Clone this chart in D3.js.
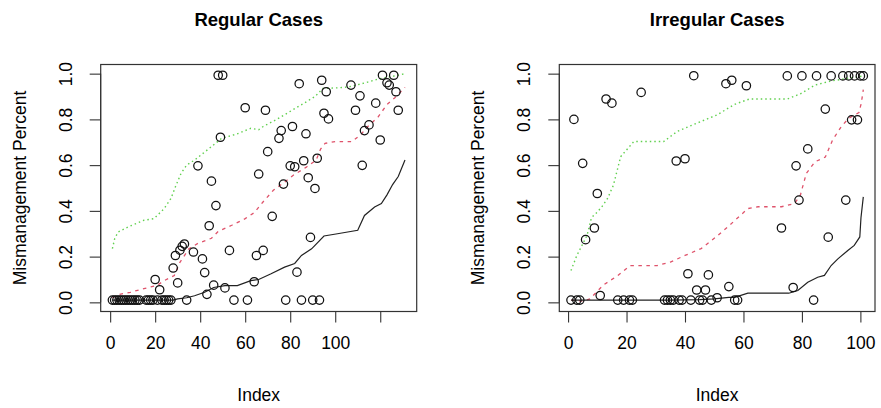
<!DOCTYPE html>
<html>
<head>
<meta charset="utf-8">
<script src="https://cdn.jsdelivr.net/npm/d3@7"></script>
<style>
  html, body { margin: 0; padding: 0; background: #fff; }
  svg text { font-family: Helvetica, Arial, "Liberation Sans", sans-serif; fill: #000; }
</style>
</head>
<body>
<svg id="chart" width="881" height="408"></svg>
<script>
// ---------------- DATA ----------------
const panelTitles = ["Regular Cases", "Irregular Cases"];
const xAxisTitle = "Index";
const yAxisTitle = "Mismanagement Percent";
const yTicks = [0, 0.2, 0.4, 0.6, 0.8, 1.0];
const yTickLabels = ["0.0", "0.2", "0.4", "0.6", "0.8", "1.0"];
const regularXTicks = [0, 20, 40, 60, 80, 100, 120];
const regularXTickLabels = ["0", "20", "40", "60", "80", "100", ""];
const irregularXTicks = [0, 20, 40, 60, 80, 100];
const irregularXTickLabels = ["0", "20", "40", "60", "80", "100"];
const regularCount = 131;
const irregularCount = 101;

// Regular cases: point index and mismanagement percent
const regularIndex = [1,2,3,4,5,6,7,8,9,10,11,12,13,16,17,18,19,20,21,22,23,24,25,26,27,28,29,30,31,32,33,34,37,39,41,42,43,44,45,46,47,48,49,50,51,53,55,60,61,64,65,66,68,69,70,72,75,76,77,78,80,81,82,83,84,85,86,87,88,89,90,91,92,93,94,95,96,97,107,109,111,112,113,115,118,120,121,123,124,126,127,128];
const regularValue = [0.01,0.01,0.01,0.01,0.01,0.01,0.01,0.01,0.01,0.01,0.01,0.01,0.01,0.01,0.01,0.01,0.01,0.10,0.01,0.055,0.01,0.01,0.01,0.01,0.01,0.15,0.205,0.085,0.228,0.245,0.255,0.01,0.22,0.597,0.19,0.13,0.035,0.335,0.53,0.075,0.423,0.993,0.722,0.993,0.063,0.227,0.01,0.851,0.01,0.09,0.205,0.561,0.227,0.84,0.659,0.376,0.717,0.751,0.517,0.01,0.597,0.769,0.593,0.132,0.956,0.01,0.619,0.737,0.545,0.284,0.01,0.498,0.63,0.01,0.971,0.827,0.921,0.802,0.95,0.84,0.903,0.599,0.751,0.776,0.871,0.71,0.993,0.96,0.95,0.993,0.921,0.84];

// Regular cases: three summary curves (index, value)
const regularUpper = [[1,0.235],[2,0.278],[3.5,0.307],[8,0.33],[15,0.359],[19.5,0.366],[24,0.41],[27,0.454],[29,0.505],[31.5,0.564],[34,0.6],[37.5,0.622],[43.5,0.669],[49.5,0.717],[56,0.735],[62.5,0.761],[66,0.755],[68,0.769],[74,0.8],[80,0.835],[86,0.87],[91,0.9],[94.5,0.935],[101,0.938],[106,0.942],[113,0.959],[119,0.976],[125,0.987],[131,1.0]];
const regularMiddle = [[1,0.02],[4,0.035],[9,0.044],[15,0.06],[21,0.075],[24,0.095],[28.5,0.117],[31,0.175],[35,0.234],[39,0.258],[45,0.28],[48,0.31],[54,0.337],[60,0.366],[64,0.392],[68,0.44],[72.5,0.49],[77,0.522],[81.5,0.557],[87,0.59],[91.5,0.622],[93.5,0.67],[95.5,0.695],[100,0.703],[107.5,0.703],[111.5,0.735],[114.5,0.769],[119,0.81],[123,0.865],[126.5,0.895],[131,0.94]];
const regularLower = [[1,0.01],[28,0.01],[30,0.015],[34,0.02],[37.5,0.029],[42,0.044],[46,0.065],[51,0.073],[56.5,0.073],[62.5,0.095],[66,0.1],[71.5,0.125],[77.5,0.154],[82,0.17],[85,0.205],[89.5,0.234],[95,0.29],[101,0.3],[110,0.315],[113,0.38],[117.5,0.417],[120.5,0.432],[123,0.47],[125.5,0.515],[128,0.55],[131,0.622]];

// Irregular cases: point index and mismanagement percent
const irregularIndex = [1,2,3,4,5,6,9,10,11,13,15,17,19,21,22,25,33,34,35,36,37,38,39,40,41,42,43,44,45,46,47,48,49,51,54,55,56,57,58,61,73,75,77,78,79,80,82,84,85,88,89,90,94,95,96,97,98,99,100,101];
const irregularValue = [0.01,0.8,0.01,0.01,0.608,0.274,0.325,0.476,0.03,0.889,0.871,0.01,0.01,0.01,0.01,0.918,0.01,0.01,0.01,0.01,0.618,0.01,0.01,0.628,0.125,0.01,0.991,0.054,0.01,0.01,0.054,0.12,0.01,0.02,0.956,0.069,0.971,0.01,0.01,0.947,0.325,0.99,0.065,0.597,0.447,0.99,0.671,0.01,0.99,0.845,0.285,0.99,0.99,0.447,0.99,0.798,0.99,0.798,0.99,0.99];

// Irregular cases: three summary curves (index, value)
const irregularUpper = [[1,0.139],[3,0.205],[6.5,0.293],[8,0.37],[10,0.395],[11.5,0.417],[13.5,0.454],[15.5,0.512],[18,0.637],[22.5,0.703],[32.7,0.703],[37.3,0.747],[44,0.783],[51,0.82],[57,0.866],[62,0.889],[75,0.889],[79.5,0.912],[84.5,0.95],[90,0.968],[95,0.978],[101,0.99]];
const irregularMiddle = [[1,0.01],[4.5,0.005],[7.5,0.015],[12,0.075],[17,0.117],[21.3,0.161],[30.5,0.161],[35,0.176],[40,0.205],[45.5,0.235],[51,0.29],[55.5,0.34],[61.5,0.41],[65,0.418],[73,0.418],[77.5,0.432],[79.5,0.47],[81.5,0.564],[84.5,0.615],[88,0.635],[90.5,0.71],[93.5,0.769],[96,0.805],[99.5,0.83],[100.3,0.87],[101,0.93]];
const irregularLower = [[1,0.01],[35,0.01],[45,0.012],[50,0.015],[55,0.022],[57,0.022],[61.5,0.04],[75.5,0.04],[78.6,0.052],[82,0.088],[85.4,0.11],[87.7,0.118],[90,0.161],[92.3,0.19],[95.7,0.227],[97.9,0.249],[99.8,0.286],[100.2,0.37],[101,0.461]];

// ---------------- DRAWING ----------------
const svg = d3.select("#chart");
svg.append("rect").attr("width", 881).attr("height", 408).attr("fill", "#fff");

const colUpper = "#61D04F";
const colMiddle = "#DF536B";
const fontFam = "Helvetica, Arial, 'Liberation Sans', sans-serif";
const axisFont = 17.5;

function rPad(lo, hi) { const p = (hi - lo) * 0.04; return [lo - p, hi + p]; }

function drawPanel(cfg) {
  const box = cfg.box; // left, right, top, bottom
  const x = d3.scaleLinear().domain(rPad(1, cfg.n)).range([box.left, box.right]);
  const y = d3.scaleLinear().domain(rPad(0, 1)).range([box.bottom, box.top]);
  const g = svg.append("g");

  // summary curves
  const line = d3.line().x(d => x(d[0])).y(d => y(d[1]));
  g.append("path").datum(cfg.upper).attr("d", line).attr("fill", "none")
    .attr("stroke", colUpper).attr("stroke-width", 1.4).attr("stroke-dasharray", "1.5 3");
  g.append("path").datum(cfg.middle).attr("d", line).attr("fill", "none")
    .attr("stroke", colMiddle).attr("stroke-width", 1.3).attr("stroke-dasharray", "3.5 4.5");
  g.append("path").datum(cfg.lower).attr("d", line).attr("fill", "none")
    .attr("stroke", "#222").attr("stroke-width", 1.2);

  // points
  const pts = cfg.index.map((i, k) => [i, cfg.value[k]]);
  g.selectAll("circle.pt").data(pts).enter().append("circle")
    .attr("class", "pt")
    .attr("cx", d => x(d[0])).attr("cy", d => y(d[1])).attr("r", 4.2)
    .attr("fill", "none").attr("stroke", "#111").attr("stroke-width", 1.25);

  // box
  g.append("rect").attr("x", box.left).attr("y", box.top)
    .attr("width", box.right - box.left).attr("height", box.bottom - box.top)
    .attr("fill", "none").attr("stroke", "#333").attr("stroke-width", 1.2);

  // x axis
  const xa = d3.axisBottom(x).tickValues(cfg.xTicks).tickSizeOuter(0).tickSize(11).tickPadding(14)
    .tickFormat((d, i) => cfg.xLabels[i]);
  const gx = g.append("g").attr("transform", `translate(0,${box.bottom})`).call(xa);
  gx.select(".domain").attr("d", `M${x(cfg.xTicks[0])},0H${x(cfg.xTicks[cfg.xTicks.length - 1])}`)
    .attr("stroke", "#333");
  gx.selectAll(".tick line").attr("stroke", "#333").attr("stroke-width", 1.1);
  gx.selectAll(".tick text").attr("font-size", axisFont).attr("fill", "#000")
    .style("font-family", fontFam);

  // y axis
  const ya = d3.axisLeft(y).tickValues(yTicks).tickSizeOuter(0).tickSize(11)
    .tickFormat((d, i) => yTickLabels[i]);
  const gy = g.append("g").attr("transform", `translate(${box.left},0)`).call(ya);
  gy.select(".domain").attr("d", `M0,${y(yTicks[0])}V${y(yTicks[yTicks.length - 1])}`)
    .attr("stroke", "#333");
  gy.selectAll(".tick line").attr("stroke", "#333").attr("stroke-width", 1.1);
  gy.selectAll(".tick text")
    .attr("x", null).attr("dy", null)
    .attr("transform", "translate(-35,0) rotate(-90)")
    .attr("text-anchor", "middle").attr("dominant-baseline", "central")
    .attr("font-size", axisFont).attr("fill", "#000")
    .style("font-family", fontFam);

  // titles
  const cx = (box.left + box.right) / 2;
  const cy = (box.top + box.bottom) / 2;
  g.append("text").attr("x", cx).attr("y", 26).attr("text-anchor", "middle")
    .attr("font-size", 18.5).attr("font-weight", "bold").text(cfg.title);
  g.append("text").attr("x", cx).attr("y", box.bottom + 83).attr("text-anchor", "middle")
    .attr("dominant-baseline", "central").attr("font-size", axisFont).text(xAxisTitle);
  g.append("text").attr("transform", `translate(${box.left - 81},${cy}) rotate(-90)`)
    .attr("text-anchor", "middle").attr("dominant-baseline", "central")
    .attr("font-size", axisFont).text(yAxisTitle);
}

drawPanel({
  title: panelTitles[0], n: regularCount,
  box: { left: 100.7, right: 416.7, top: 64.5, bottom: 311.5 },
  xTicks: regularXTicks, xLabels: regularXTickLabels,
  index: regularIndex, value: regularValue,
  upper: regularUpper, middle: regularMiddle, lower: regularLower
});
drawPanel({
  title: panelTitles[1], n: irregularCount,
  box: { left: 559.3, right: 875, top: 64.5, bottom: 311.5 },
  xTicks: irregularXTicks, xLabels: irregularXTickLabels,
  index: irregularIndex, value: irregularValue,
  upper: irregularUpper, middle: irregularMiddle, lower: irregularLower
});
</script>
</body>
</html>
